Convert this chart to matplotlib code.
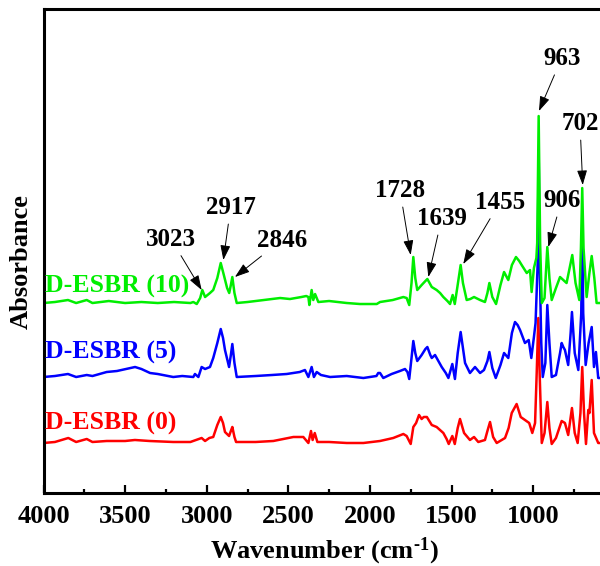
import matplotlib
matplotlib.use('Agg')
import matplotlib.pyplot as plt
from matplotlib.ticker import MultipleLocator

plt.rcParams['font.family'] = ['Liberation Serif', 'DejaVu Serif']
plt.rcParams['font.weight'] = 'bold'
plt.rcParams['mathtext.fontset'] = 'custom'
plt.rcParams['mathtext.rm'] = 'Liberation Serif:bold'
plt.rcParams['mathtext.bf'] = 'Liberation Serif:bold'
plt.rcParams['mathtext.default'] = 'bf'

# spectra (wavenumber, absorbance in arbitrary offset units)
wn_g = [4000, 3930, 3850, 3800, 3735, 3700, 3600, 3500, 3400, 3300, 3200, 3100,
        3082, 3061, 3040, 3027, 3010, 2980, 2960, 2935, 2914, 2895, 2875, 2862,
        2852, 2843, 2830, 2816, 2750, 2650, 2550, 2490, 2420, 2390, 2377, 2371,
        2357, 2347, 2336, 2316, 2250, 2142, 2061, 1958, 1938, 1860, 1795, 1775,
        1759, 1745, 1734, 1722, 1710, 1683, 1660, 1648, 1621, 1591, 1570, 1550,
        1525, 1509, 1493, 1480, 1465, 1444, 1430, 1407, 1385, 1362, 1325, 1295,
        1280, 1268, 1250, 1227, 1200, 1178, 1152, 1130, 1105, 1085, 1070, 1039,
        1019, 1009, 995, 980, 975, 966, 957, 947, 930, 913, 900, 886, 860, 835,
        815, 795, 760, 740, 717, 707, 699, 691, 672, 655, 641, 625, 611, 580]
ab_g = [190, 191, 193, 190, 193, 190, 192, 190, 191, 190, 191, 190,
        191, 189, 195, 203, 196, 200, 203, 215, 230, 218, 205, 200,
        208, 216, 200, 190, 191, 193, 195, 194, 196, 197, 196, 188,
        203, 193, 199, 191, 192, 190, 189, 189, 191, 193, 196, 195,
        188, 210, 236, 215, 203, 208, 212, 214, 206, 203, 200, 196,
        192, 189, 198, 189, 205, 228, 210, 193, 194, 196, 193, 191,
        200, 210, 196, 189, 208, 221, 213, 228, 236, 232, 228, 220,
        223, 201, 225, 235, 250, 377, 250, 190, 195, 246, 215, 193, 205, 216,
        213, 210, 238, 210, 193, 245, 305, 245, 196, 220, 237, 215, 190, 190]

wn_b = [4000, 3930, 3850, 3800, 3735, 3700, 3613, 3550, 3439, 3400, 3347, 3300,
        3205, 3150, 3082, 3072, 3051, 3031, 3010, 2980, 2960, 2935, 2914, 2900,
        2888, 2863, 2852, 2843, 2830, 2816, 2700, 2600, 2510, 2430, 2398, 2377,
        2357, 2343, 2326, 2300, 2244, 2142, 2040, 1960, 1949, 1938, 1918, 1867,
        1816, 1785, 1770, 1759, 1745, 1734, 1722, 1710, 1683, 1660, 1648, 1630,
        1621, 1601, 1560, 1535, 1519, 1495, 1479, 1462, 1444, 1430, 1417, 1387,
        1356, 1325, 1301, 1280, 1268, 1250, 1229, 1200, 1178, 1152, 1130, 1111,
        1095, 1080, 1050, 1027, 1011, 995, 985, 972, 966, 960, 950, 941, 925,
        913, 900, 886, 860, 835, 825, 815, 805, 785, 770, 762, 745, 723, 705,
        699, 693, 678, 660, 641, 627, 615, 601, 580]
ab_b = [116, 117, 119, 116, 118, 117, 121, 122, 126, 124, 120, 119,
        116, 117, 116, 119, 116, 126, 124, 126, 135, 150, 164, 155,
        143, 126, 138, 149, 130, 116, 117, 118, 119, 121, 123, 116,
        126, 116, 121, 118, 116, 117, 115, 117, 120, 120, 115, 119,
        122, 124, 121, 114, 135, 152, 140, 132, 138, 144, 146, 138,
        135, 138, 126, 120, 115, 129, 114, 140, 161, 145, 130, 120,
        126, 120, 123, 132, 141, 125, 115, 128, 140, 135, 160, 171,
        168, 163, 150, 153, 135, 156, 170, 230, 343, 230, 150, 116, 130,
        188, 150, 116, 118, 140, 150, 146, 143, 128, 160, 181, 140, 123, 180,
        263, 180, 128, 150, 166, 126, 141, 115, 115]

wn_r = [4000, 3930, 3848, 3800, 3735, 3700, 3613, 3500, 3440, 3350, 3205, 3100,
        3031, 3010, 2984, 2960, 2935, 2914, 2900, 2888, 2863, 2852, 2843, 2830,
        2820, 2700, 2592, 2469, 2408, 2377, 2361, 2351, 2338, 2322, 2250, 2142,
        2040, 1938, 1857, 1795, 1775, 1750, 1734, 1717, 1699, 1683, 1670, 1651,
        1621, 1591, 1550, 1530, 1517, 1495, 1480, 1462, 1448, 1423, 1387, 1362,
        1336, 1295, 1280, 1264, 1245, 1223, 1172, 1150, 1131, 1101, 1076, 1050,
        1024, 1005, 988, 978, 968, 960, 947, 930, 913, 900, 886, 860, 825, 805,
        785, 762, 745, 727, 710, 699, 688, 676, 662, 655, 641, 627, 601, 580]
ab_r = [50, 51, 55, 51, 54, 51, 52, 52, 53, 52, 51, 51,
        55, 52, 55, 56, 68, 76, 70, 61, 57, 62, 66, 56,
        51, 51, 52, 56, 56, 50, 62, 53, 60, 51, 51, 50,
        50, 52, 55, 59, 57, 49, 66, 70, 78, 74, 76, 76,
        68, 66, 60, 54, 49, 57, 49, 65, 74, 60, 53, 56,
        51, 53, 62, 71, 56, 50, 55, 65, 80, 89, 76, 73,
        70, 60, 70, 120, 175, 120, 50, 60, 91, 65, 49, 55, 72, 70,
        58, 85, 60, 50, 80, 126, 80, 49, 83, 80, 113, 60, 50, 50]

names = ['D-ESBR (0)', 'D-ESBR (5)', 'D-ESBR (10)']
colors = ['#ff0000', '#0000ff', '#00ee00']
label_y = [69.7, 140.7, 206.3]

# peak labels: text, arrow head (wn, y), text centre (wn, y)
peaks = ['3023', '2917', '2846', '1728', '1639', '1455', '963', '906', '702']
peak_xy = [(3031, 203), (2898, 233), (2827, 216), (1750, 238), (1642, 216),
           (1428, 229), (964, 382), (907, 246), (696, 308)]
text_xy = [(3219, 254), (2853, 286), (2540, 253), (1816, 303), (1560, 275),
           (1203, 291), (825, 435), (825, 293), (713, 370)]

fig = plt.figure(figsize=(6.0, 5.66), dpi=100)
ax = fig.add_axes([0.0725, 0.129, 0.9357, 0.855])

for x, y, c in zip([wn_r, wn_b, wn_g], [ab_r, ab_b, ab_g], colors):
    ax.plot(x, y, color=c, lw=1.8)

for n, c, ly in zip(names, colors, label_y):
    ax.text(3991, ly, n, color=c, fontsize=18.5, fontweight='bold',
            ha='left', va='center')

for p, h, t in zip(peaks, peak_xy, text_xy):
    ax.annotate(p, xy=h, xytext=t, ha='center', va='center', fontsize=18,
                fontweight='bold',
                arrowprops=dict(arrowstyle='-|>,head_length=0.5,head_width=0.17',
                                color='k', lw=0.7, shrinkA=2, shrinkB=0))

ax.set_xlim(4000, 560)
ax.set_ylim(0, 484)
ax.xaxis.set_major_locator(MultipleLocator(500))
ax.xaxis.set_minor_locator(MultipleLocator(250))
ax.tick_params(axis='x', which='major', direction='in', length=6, width=1.6,
               labelsize=19, pad=9)
ax.tick_params(axis='x', which='minor', direction='in', length=3, width=1.6)
ax.set_yticks([])
for s in ax.spines.values():
    s.set_linewidth(2.2)
for lab in ax.get_xticklabels():
    lab.set_fontweight('bold')

fig.text(21 / 600, 1 - 262 / 566, 'Absorbance', rotation=90, fontsize=19,
         fontweight='bold', ha='center', va='center')
fig.text(0.541, 0.0135, r'Wavenumber (cm$^{\text{-1}}$)', fontsize=19,
         fontweight='bold', ha='center', va='baseline')

plt.savefig('out.png', dpi=100)
plt.close()
